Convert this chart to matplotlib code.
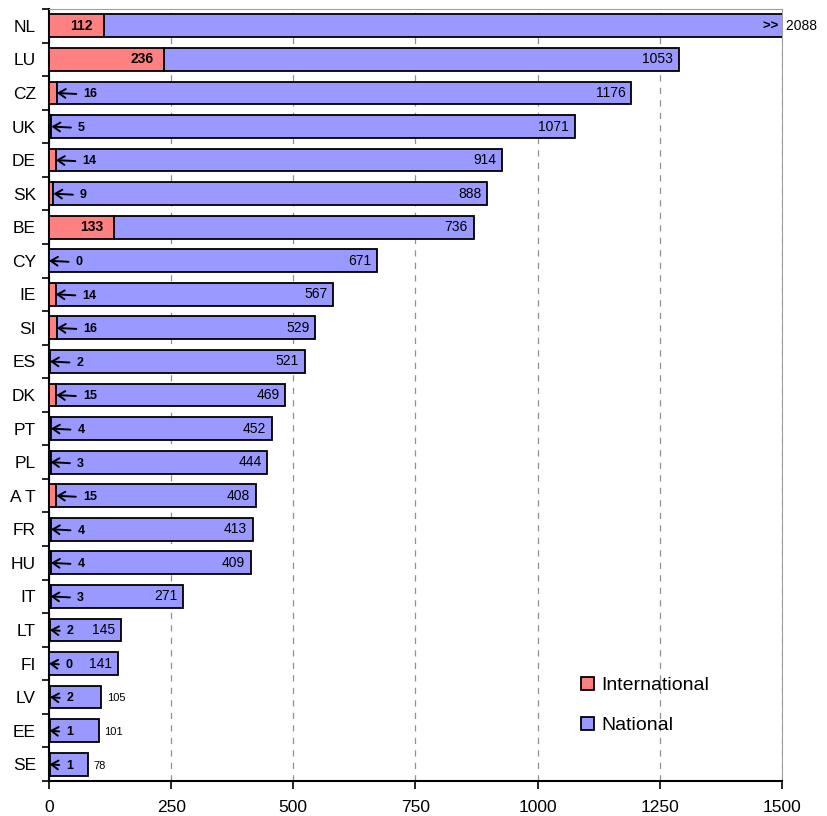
import numpy as np
import matplotlib.pyplot as plt

plt.rcParams['font.family'] = ['Liberation Sans', 'DejaVu Sans']

countries = ["NL", "LU", "CZ", "UK", "DE", "SK", "BE", "CY", "IE", "SI", "ES", "DK",
             "PT", "PL", "A T", "FR", "HU", "IT", "LT", "FI", "LV", "EE", "SE"]
international = [112, 236, 16, 5, 14, 9, 133, 0, 14, 16, 2, 15, 4, 3, 15, 4, 4, 3, 2, 0, 2, 1, 1]
national = [2088, 1053, 1176, 1071, 914, 888, 736, 671, 567, 529, 521, 469,
            452, 444, 408, 413, 409, 271, 145, 141, 105, 101, 78]
xmax = 1500

red = '#FF8080'
blue = '#9999FF'

fig = plt.figure(figsize=(8.27, 8.16), dpi=100)
ax = fig.add_axes([0.0593, 0.0429, 0.886, 0.946])

y = np.arange(len(countries))
intl = np.array(international)
nat = np.array(national)

ax.barh(y, intl, height=0.68, color=red, edgecolor='black', linewidth=1.3,
        label='International', zorder=3)
ax.barh(y, nat, left=intl, height=0.68, color=blue, edgecolor='black', linewidth=1.3,
        label='National', zorder=3)

ax.set_xlim(0, xmax)
ax.set_ylim(len(countries) - 0.5, -0.5)

# labels for the national part
for i in range(len(countries)):
    total = intl[i] + nat[i]
    if total > xmax:
        ax.text(xmax, i, '>> ', ha='right', va='center', fontsize=9.5, fontweight='bold', zorder=4)
        ax.text(xmax, i, ' ' + str(nat[i]), ha='left', va='center', fontsize=10, clip_on=False)
    elif total < 120:
        ax.annotate(str(nat[i]), xy=(total, i), xytext=(4, -1), textcoords='offset points',
                    ha='left', va='center', fontsize=8)
    else:
        ax.annotate(str(nat[i]), xy=(total, i), xytext=(-4, 0), textcoords='offset points',
                    ha='right', va='center', fontsize=10, zorder=4)

# labels for the international part
for i in range(len(countries)):
    if intl[i] > 50:
        ax.annotate(str(intl[i]), xy=(intl[i], i), xytext=(-8, 0), textcoords='offset points',
                    ha='right', va='center', fontsize=10, fontweight='bold', zorder=4)
    else:
        off = 19 if nat[i] > 200 else 12
        ax.annotate(str(intl[i]), xy=(intl[i], i), xytext=(off, -1), textcoords='offset points',
                    ha='left', va='center', fontsize=9, fontweight='bold', zorder=4,
                    arrowprops=dict(arrowstyle='->,head_length=0.55,head_width=0.35',
                                    lw=1.4, color='black',
                                    relpos=(0, 0.5), shrinkA=3, shrinkB=0))

# y axis: ticks between bars, labels at bar centres
ax.set_yticks(np.arange(-0.5, len(countries), 1))
ax.set_yticklabels([])
ax.set_yticks(y, minor=True)
ax.set_yticklabels(countries, minor=True, fontsize=12.5)
ax.tick_params(axis='y', which='minor', length=0, pad=9.5)
ax.tick_params(axis='y', which='major', length=5, width=1.2, direction='out')

ax.set_xticks([0, 250, 500, 750, 1000, 1250, 1500])
ax.tick_params(axis='x', length=6, width=1.2, direction='out', labelsize=12.5, pad=8)
ax.xaxis.grid(True, linestyle=(0, (5, 5)), color='#909090', linewidth=0.9, zorder=0)

ax.spines['left'].set_linewidth(1.5)
ax.spines['bottom'].set_linewidth(1.5)
ax.spines['top'].set_color('#A0A0A0')
ax.spines['right'].set_color('#A0A0A0')

leg = ax.legend(loc='upper left', bbox_to_anchor=(0.702, 0.158), frameon=False,
                fontsize=14, handlelength=0.65, handleheight=0.65, handletextpad=0.4,
                labelspacing=1.2)

plt.savefig('out.png', dpi=100)
